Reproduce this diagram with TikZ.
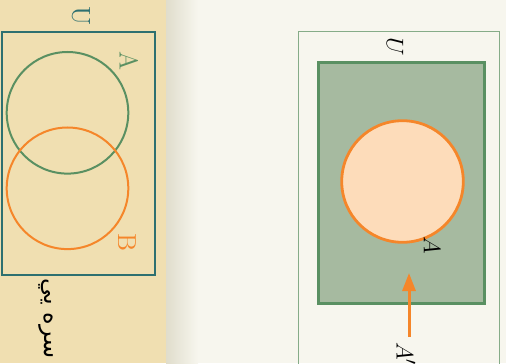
\documentclass[tikz,border=0pt]{standalone}
\usepackage{fontspec}
\usepackage{tikz}
\usetikzlibrary{arrows.meta, positioning}
\newfontfamily\arabicfont[Script=Arabic]{DejaVu Sans}
\TeXXeTstate=1
\definecolor{PaperBeige}{HTML}{F0DFB1}
\definecolor{PageBg}{HTML}{F7F6EE}
\definecolor{ShadowGray}{HTML}{E0DDCC}
\definecolor{TealLine}{HTML}{2E7070}
\definecolor{SetGreen}{HTML}{5A9062}
\definecolor{SetOrange}{HTML}{F5862A}
\definecolor{FrameGreen}{HTML}{86AC88}
\definecolor{ComplFill}{HTML}{A6BAA0}
\definecolor{PeachFill}{HTML}{FDDCBA}

\begin{document}
\begin{tikzpicture}[
  x=0.5pt, y=-0.5pt,
  lbl/.style={rotate=-90, inner sep=0pt, font=\fontsize{13}{15}\selectfont},
  setcirc/.style={circle, draw, line width=1pt, minimum size=60.8pt,
                  inner sep=0pt},
  arr/.style={-{Triangle[length=9pt, width=6.5pt]}, line width=1.5pt,
              SetOrange},
]
\useasboundingbox (0,0) rectangle (506,363);
\fill[PageBg] (0,0) rectangle (506,363);
\fill[PaperBeige] (0,0) rectangle (166,363);
\shade[left color=ShadowGray, right color=PageBg] (166,0) rectangle (198,363);

% left page: A and B in U
\node[draw=TealLine, line width=1pt, minimum width=76.65pt,
      minimum height=121.65pt, inner sep=0pt] (univL) at (78.35,153.35) {};
\node[lbl, TealLine] (labU) at (81,16.5) {U};
\node[setcirc, draw=SetGreen] (setA) at (67.5,112.8) {};
\node[setcirc, draw=SetOrange] (setB) at (67.5,188.3) {};
\node[lbl, SetGreen] (labA) at (129,61.5) {A};
\node[lbl, SetOrange] (labB) at (127,243) {B};
\node[rotate=-90, anchor=base west, inner sep=0pt,
      font=\arabicfont\fontsize{12}{14}\selectfont] (caption) at (44,278)
  {\beginR ل سره يي\endR};

% right page: complement of A
\draw[FrameGreen, line width=0.5pt] (298.3,364) |- (499,31.7) -- (499,364);
\node[lbl] (labUr) at (395,47) {$U$};
\node[draw=SetGreen, fill=ComplFill, line width=1.5pt, minimum width=83pt,
      minimum height=120.15pt, inner sep=0pt] (univR) at (401,182.85) {};
\node[setcirc, draw=SetOrange, fill=PeachFill, line width=1.4pt]
  (setAr) at (402.5,181.5) {};
\node[lbl] (labAr) at (432,245) {$A$};
\node[lbl] (labAc) at (406,354) {$A'$};
\coordinate (footAc) at (409,337);
\coordinate (tipAc) at (409,273);
\draw[arr] (footAc) -- (tipAc);

\end{tikzpicture}
\end{document}
